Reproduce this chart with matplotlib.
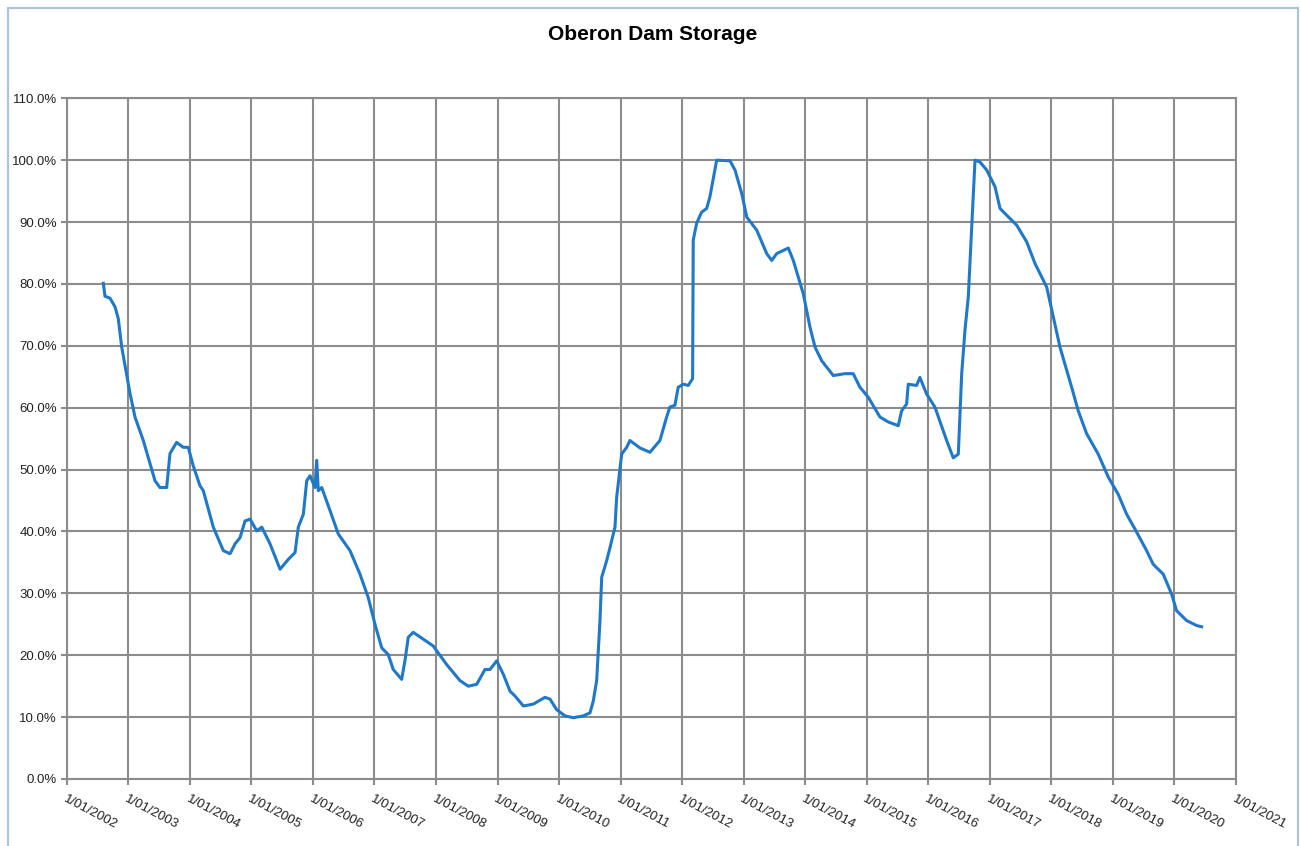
import datetime as dt

import matplotlib
matplotlib.use('Agg')
import matplotlib.pyplot as plt
import matplotlib.dates as mdates
from matplotlib.patches import Rectangle
from matplotlib.ticker import FuncFormatter, MultipleLocator

# dates as decimal years, storage in percent
years = [
    2002.595, 2002.622, 2002.704, 2002.785, 2002.838, 2002.894, 2003.029, 2003.110,
    2003.245, 2003.354, 2003.435, 2003.516, 2003.625, 2003.679, 2003.787, 2003.895,
    2003.976, 2004.057, 2004.166, 2004.220, 2004.382, 2004.545, 2004.654, 2004.735,
    2004.816, 2004.897, 2004.979, 2005.087, 2005.169, 2005.303, 2005.466, 2005.601,
    2005.710, 2005.763, 2005.845, 2005.900, 2005.954, 2006.035, 2006.062, 2006.088,
    2006.144, 2006.278, 2006.413, 2006.604, 2006.766, 2006.901, 2007.010, 2007.119,
    2007.226, 2007.307, 2007.444, 2007.497, 2007.551, 2007.632, 2007.795, 2007.957,
    2008.175, 2008.391, 2008.526, 2008.662, 2008.797, 2008.878, 2008.987, 2009.095,
    2009.203, 2009.285, 2009.420, 2009.582, 2009.772, 2009.854, 2009.962, 2010.097,
    2010.232, 2010.395, 2010.504, 2010.557, 2010.612, 2010.666, 2010.694, 2010.775,
    2010.829, 2010.910, 2010.937, 2011.019, 2011.100, 2011.153, 2011.316, 2011.479,
    2011.641, 2011.750, 2011.803, 2011.885, 2011.938, 2012.019, 2012.101, 2012.172,
    2012.182, 2012.237, 2012.318, 2012.400, 2012.453, 2012.562, 2012.778, 2012.860,
    2012.969, 2013.050, 2013.212, 2013.375, 2013.456, 2013.537, 2013.726, 2013.807,
    2013.970, 2014.079, 2014.160, 2014.268, 2014.457, 2014.647, 2014.782, 2014.891,
    2015.026, 2015.216, 2015.351, 2015.514, 2015.569, 2015.650, 2015.676, 2015.812,
    2015.866, 2015.975, 2016.110, 2016.300, 2016.407, 2016.489, 2016.544, 2016.597,
    2016.651, 2016.760, 2016.841, 2016.950, 2017.085, 2017.166, 2017.275, 2017.437,
    2017.600, 2017.735, 2017.925, 2018.141, 2018.331, 2018.438, 2018.575, 2018.763,
    2018.926, 2019.088, 2019.225, 2019.360, 2019.550, 2019.657, 2019.820, 2019.956,
    2020.037, 2020.200, 2020.362, 2020.443,
]
storage = [
    80.1, 78.0, 77.7, 76.3, 74.4, 69.8, 62.3, 58.5,
    54.7, 51.0, 48.2, 47.1, 47.1, 52.6, 54.4, 53.6,
    53.6, 50.6, 47.4, 46.6, 40.7, 36.9, 36.4, 38.0,
    39.0, 41.7, 42.0, 40.1, 40.7, 38.0, 33.9, 35.5,
    36.6, 40.7, 42.8, 48.2, 49.0, 47.1, 51.5, 46.6,
    47.1, 43.4, 39.6, 36.9, 33.1, 29.3, 25.0, 21.2,
    20.1, 17.7, 16.1, 19.1, 22.9, 23.7, 22.6, 21.5,
    18.5, 15.9, 15.0, 15.3, 17.7, 17.7, 19.1, 16.9,
    14.2, 13.4, 11.8, 12.1, 13.2, 12.9, 11.2, 10.2,
    9.9, 10.2, 10.7, 12.6, 15.9, 25.6, 32.6, 35.3,
    37.4, 40.7, 45.5, 52.5, 53.6, 54.7, 53.5, 52.8,
    54.7, 58.5, 60.1, 60.4, 63.3, 63.8, 63.6, 64.7,
    87.1, 89.8, 91.6, 92.2, 94.1, 100.0, 99.9, 98.4,
    94.6, 90.8, 88.7, 84.9, 83.8, 84.9, 85.8, 83.8,
    78.4, 73.0, 69.8, 67.6, 65.2, 65.5, 65.5, 63.3,
    61.7, 58.5, 57.7, 57.1, 59.5, 60.6, 63.8, 63.6,
    64.9, 62.2, 60.1, 54.7, 51.9, 52.5, 65.5, 72.5,
    77.9, 100.0, 99.7, 98.4, 95.7, 92.2, 91.1, 89.5,
    86.8, 83.3, 79.5, 69.8, 63.3, 59.5, 55.8, 52.5,
    48.8, 46.0, 42.8, 40.4, 36.9, 34.7, 33.1, 29.9,
    27.2, 25.6, 24.8, 24.6,
]
tick_years = list(range(2002, 2022))


def to_date(y):
    year = int(y)
    start = dt.datetime(year, 1, 1)
    length = dt.datetime(year + 1, 1, 1) - start
    return start + (y - year) * length


dates = [to_date(y) for y in years]
tick_dates = [dt.datetime(y, 1, 1) for y in tick_years]

plt.rcParams['font.family'] = ['Liberation Sans', 'DejaVu Sans']

fig = plt.figure(figsize=(13.01, 8.46), dpi=100)
ax = fig.add_axes([0.0513, 0.0792, 0.8987, 0.8046])

# light blue chart frame
fig.patches.append(Rectangle((8 / 1301, -0.1), (1298 - 8) / 1301, 1.1 - 8 / 846,
                             transform=fig.transFigure, fill=False,
                             edgecolor='#a9c1e3', linewidth=1.5))

ax.plot(dates, storage, color='#1f78c8', linewidth=2.2, solid_joinstyle='round')

ax.set_xlim(tick_dates[0], tick_dates[-1])
ax.set_ylim(0, 110)
ax.set_xticks(tick_dates)
ax.xaxis.set_major_formatter(FuncFormatter(lambda v, p: '1/01/%d' % mdates.num2date(v).year))
ax.yaxis.set_major_locator(MultipleLocator(10))
ax.yaxis.set_major_formatter(FuncFormatter(lambda v, p: '%.1f%%' % v))

ax.grid(True, color='#8c8c8c', linewidth=1.5)
ax.set_axisbelow(True)
for s in ax.spines.values():
    s.set_color('#8c8c8c')
    s.set_linewidth(1.5)

ax.tick_params(axis='both', colors='#8c8c8c', length=4, width=1.5, labelcolor='#222222',
               labelsize=9.5)
ax.tick_params(axis='y', pad=3)
ax.tick_params(axis='x', pad=6)
for lab in ax.get_xticklabels():
    lab.set_rotation(-28)
    lab.set_ha('left')
    lab.set_va('top')
    lab.set_rotation_mode('anchor')

fig.text(0.502, 0.959, 'Oberon Dam Storage', ha='center', va='center',
         fontsize=15, fontweight='bold', color='#000000')

fig.savefig('out.png', dpi=100)
